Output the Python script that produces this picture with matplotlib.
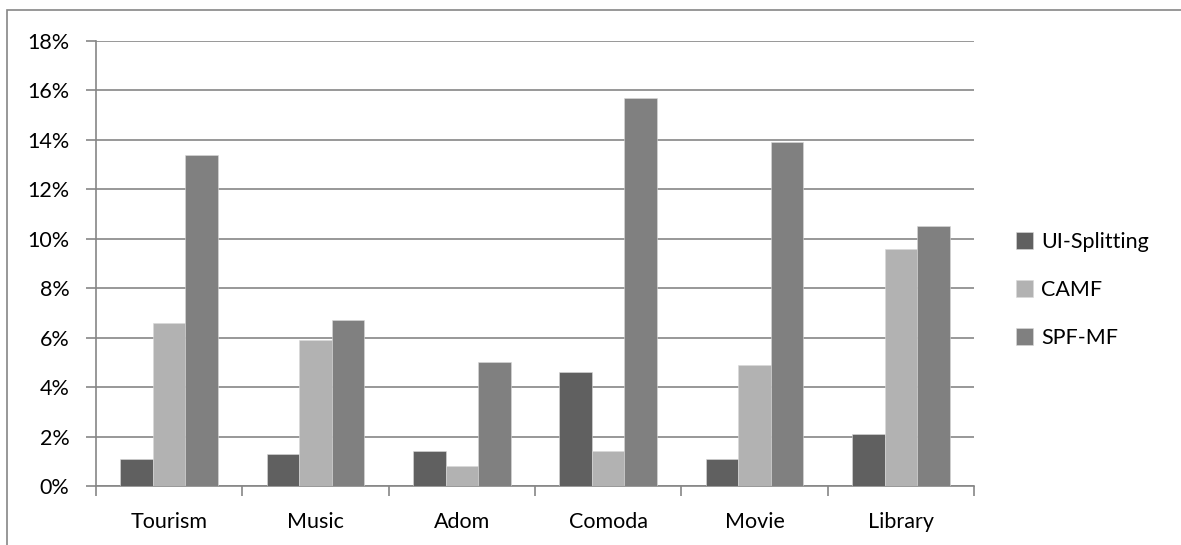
import matplotlib.pyplot as plt
from matplotlib.patches import Rectangle
from matplotlib.ticker import FuncFormatter, MultipleLocator
import numpy as np

plt.rcParams['font.family'] = ['Lato', 'DejaVu Sans']

categories = ['Tourism', 'Music', 'Adom', 'Comoda', 'Movie', 'Library']
ui_splitting = [1.1, 1.3, 1.4, 4.6, 1.1, 2.1]
camf = [6.6, 5.9, 0.8, 1.4, 4.9, 9.6]
spf_mf = [13.4, 6.7, 5.0, 15.7, 13.9, 10.5]

series = [('UI-Splitting', ui_splitting, '#606060'),
          ('CAMF', camf, '#b2b2b2'),
          ('SPF-MF', spf_mf, '#808080')]

W, H = 1181, 545
fs = 15.5
fig = plt.figure(figsize=(W / 100, H / 100), dpi=100)
ax = fig.add_axes([96 / W, 1 - 486 / H, (974 - 96) / W, (486 - 41) / H])

# outer chart border (right/bottom run off the image)
fig.patches.append(Rectangle((7 / W, -0.05), 1.1, 1 - 10 / H + 0.05,
                             transform=fig.transFigure, fill=False,
                             edgecolor='#868686', linewidth=1.2))

x = np.arange(len(categories))
bw = 1 / 4.5
for i, (name, vals, col) in enumerate(series):
    ax.bar(x + (i - 1) * bw, vals, width=bw, color=col, label=name,
           edgecolor='#d9d9d9', linewidth=0.4, zorder=3)

ax.set_xlim(-0.5, len(categories) - 0.5)
ax.set_ylim(0, 18)
ax.yaxis.set_major_locator(MultipleLocator(2))
ax.yaxis.set_major_formatter(FuncFormatter(lambda v, p: f'{v:.0f}%'))
ax.grid(axis='y', color='#868686', linewidth=1.2, zorder=0)
ax.set_axisbelow(True)

ax.set_xticks(x)
ax.set_xticklabels(categories)
ax.set_xticks(np.arange(len(categories) + 1) - 0.5, minor=True)
ax.tick_params(axis='x', which='major', length=0, pad=19, labelsize=fs)
ax.tick_params(axis='x', which='minor', length=7, width=1.2, color='#868686')
ax.tick_params(axis='y', length=7, width=1.2, color='#868686', pad=12, labelsize=fs)

for s in ['top', 'right']:
    ax.spines[s].set_visible(False)
for s in ['left', 'bottom']:
    ax.spines[s].set_color('#868686')
    ax.spines[s].set_linewidth(1.2)

ax.legend(loc='center left', bbox_to_anchor=(1.026, 0.44), frameon=False,
          fontsize=fs, handlelength=0.8, handleheight=0.8,
          handletextpad=0.35, labelspacing=1.3)

fig.savefig('out.png', dpi=100)
